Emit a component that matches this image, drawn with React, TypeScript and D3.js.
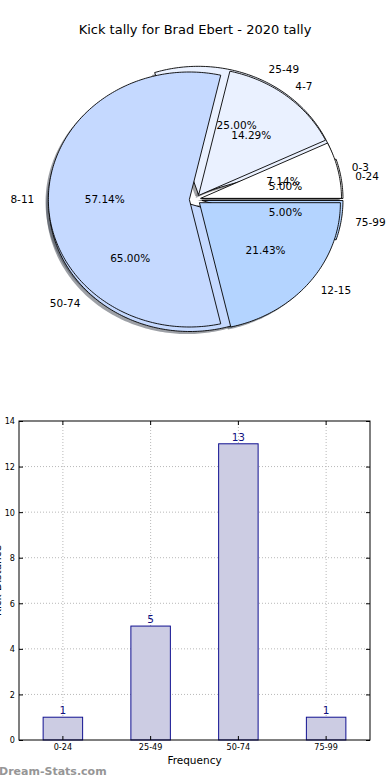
import { useEffect, useRef } from 'react';
import * as d3 from 'd3';

// distance bands (outer pie, drawn first, and the bar chart)
const distBands = ['0-24', '25-49', '50-74', '75-99'];
const distCounts = [1, 5, 13, 1];

// kicks per game bands (pie drawn on top)
const kickBands = ['0-3', '4-7', '8-11', '12-15'];
const kickCounts = [1, 2, 8, 3];

const pieColors = ['#ffffff', '#eaf1ff', '#c5d9ff', '#b4d4ff'];
const yTicks = [0, 2, 4, 6, 8, 10, 12, 14];

const title = 'Kick tally for Brad Ebert - 2020 tally';
const font = "'DejaVu Sans', sans-serif";

const W = 390;
const H = 780;

export default function App() {
  const svgRef = useRef<SVGSVGElement>(null);

  useEffect(() => {
    if (!svgRef.current) return;
    const svg = d3.select(svgRef.current);
    svg.selectAll('*').remove();

    svg.append('rect').attr('width', W).attr('height', H).attr('fill', '#fff');

    svg.append('text')
      .attr('x', W / 2).attr('y', 34)
      .attr('text-anchor', 'middle')
      .style('font-family', font).style('font-size', '13px')
      .text(title);

    // ---------- Pies (ellipse, matplotlib style: CCW from 3 o'clock) ----------
    const cx = 195, cy = 199.5, rx = 141, ry = 127.5;
    const xs = d3.scaleLinear().domain([-1, 1]).range([cx - rx, cx + rx]);
    const ys = d3.scaleLinear().domain([-1, 1]).range([cy + ry, cy - ry]);
    const line = d3.line<[number, number]>().x(d => xs(d[0])).y(d => ys(d[1]));

    const pieGen = d3.pie<number>().sort(null).startAngle(0).endAngle(2 * Math.PI);

    interface Wedge {
      pts: [number, number][];
      color: string;
      label: string;
      pct: string;
      lx: number; ly: number;
      px: number; py: number;
    }

    function wedges(values: number[], labels: string[], explode: number): Wedge[] {
      const total = d3.sum(values);
      return pieGen(values).map((a, i) => {
        const t1 = a.startAngle, t2 = a.endAngle;
        const tm = (t1 + t2) / 2;
        const ox = explode * Math.cos(tm), oy = explode * Math.sin(tm);
        const n = Math.max(2, Math.ceil(((t2 - t1) * 180) / Math.PI));
        const pts: [number, number][] = [[ox, oy]];
        for (let k = 0; k <= n; k++) {
          const t = t1 + ((t2 - t1) * k) / n;
          pts.push([ox + Math.cos(t), oy + Math.sin(t)]);
        }
        pts.push([ox, oy]);
        return {
          pts,
          color: pieColors[i],
          label: labels[i],
          pct: ((values[i] / total) * 100).toFixed(2) + '%',
          lx: ox + 1.1 * Math.cos(tm), ly: oy + 1.1 * Math.sin(tm),
          px: ox + 0.6 * Math.cos(tm), py: oy + 0.6 * Math.sin(tm),
        };
      });
    }

    const distW = wedges(distCounts, distBands, 0.05);
    const kickW = wedges(kickCounts, kickBands, 0.04);
    const all = [...distW, ...kickW];

    const pieG = svg.append('g');

    // shadows below everything
    pieG.selectAll('.shadow')
      .data(all)
      .join('path')
      .attr('class', 'shadow')
      .attr('d', d => line(d.pts.map(p => [p[0] - 0.02, p[1] - 0.02] as [number, number])))
      .attr('fill', d => {
        const c = d3.rgb(d.color);
        return d3.rgb(c.r * 0.3, c.g * 0.3, c.b * 0.3).toString();
      })
      .attr('opacity', 0.5);

    pieG.selectAll('.wedge')
      .data(all)
      .join('path')
      .attr('class', 'wedge')
      .attr('d', d => line(d.pts))
      .attr('fill', d => d.color)
      .attr('stroke', '#000')
      .attr('stroke-width', 0.9)
      .attr('stroke-linejoin', 'miter');

    pieG.selectAll('.lbl')
      .data(all)
      .join('text')
      .attr('class', 'lbl')
      .attr('x', d => xs(d.lx))
      .attr('y', d => ys(d.ly))
      .attr('dy', '0.35em')
      .attr('text-anchor', d => (d.lx > 0 ? 'start' : 'end'))
      .style('font-family', font).style('font-size', '10.5px')
      .text(d => d.label);

    pieG.selectAll('.pct')
      .data(all)
      .join('text')
      .attr('class', 'pct')
      .attr('x', d => xs(d.px))
      .attr('y', d => ys(d.py))
      .attr('dy', '0.35em')
      .attr('text-anchor', 'middle')
      .style('font-family', font).style('font-size', '10.5px')
      .text(d => d.pct);

    // ---------- Bar chart ----------
    const left = 19, right = 370, top = 421, bottom = 740;
    const x = d3.scaleBand<string>()
      .domain(distBands)
      .range([left, right])
      .paddingInner(0.55)
      .paddingOuter(0.275);
    const y = d3.scaleLinear().domain([0, 14]).range([bottom, top]);

    const g = svg.append('g');

    // grid
    g.selectAll('.hgrid')
      .data(yTicks.slice(1, -1))
      .join('line')
      .attr('x1', left).attr('x2', right)
      .attr('y1', d => y(d)).attr('y2', d => y(d))
      .attr('stroke', '#b8b8b8').attr('stroke-width', 1)
      .attr('stroke-dasharray', '1,2');
    g.selectAll('.vgrid')
      .data(distBands)
      .join('line')
      .attr('x1', d => (x(d) || 0) + x.bandwidth() / 2)
      .attr('x2', d => (x(d) || 0) + x.bandwidth() / 2)
      .attr('y1', top).attr('y2', bottom)
      .attr('stroke', '#b8b8b8').attr('stroke-width', 1)
      .attr('stroke-dasharray', '1,2');

    // bars
    g.selectAll('.bar')
      .data(distCounts)
      .join('rect')
      .attr('x', (d, i) => x(distBands[i]) || 0)
      .attr('y', d => y(d))
      .attr('width', x.bandwidth())
      .attr('height', d => y(0) - y(d))
      .attr('fill', '#ccccE3')
      .attr('stroke', '#101090')
      .attr('stroke-width', 1);

    g.selectAll('.val')
      .data(distCounts)
      .join('text')
      .attr('x', (d, i) => (x(distBands[i]) || 0) + x.bandwidth() / 2)
      .attr('y', d => y(d) - 3)
      .attr('text-anchor', 'middle')
      .attr('fill', '#101080')
      .style('font-family', font).style('font-size', '10.5px')
      .text(d => String(d));

    // axes (ticks pointing inward)
    const tickFont = "'DejaVu Sans Condensed', 'DejaVu Sans', sans-serif";
    const yAxis = g.append('g').attr('transform', `translate(${left},0)`)
      .call(d3.axisLeft(y).tickValues(yTicks).tickSizeInner(-4).tickSizeOuter(0).tickPadding(4));
    yAxis.select('.domain').remove();
    yAxis.selectAll('text').style('font-family', tickFont).style('font-size', '9px').attr('fill', '#000');

    const yAxisR = g.append('g').attr('transform', `translate(${right},0)`)
      .call(d3.axisRight(y).tickValues(yTicks).tickSizeInner(-4).tickSizeOuter(0).tickFormat(() => ''));
    yAxisR.select('.domain').remove();

    const xAxis = g.append('g').attr('transform', `translate(0,${bottom})`)
      .call(d3.axisBottom(x).tickSizeInner(-4).tickSizeOuter(0).tickPadding(4));
    xAxis.select('.domain').remove();
    xAxis.selectAll('text').style('font-family', tickFont).style('font-size', '9px').attr('fill', '#000');

    const xAxisT = g.append('g').attr('transform', `translate(0,${top})`)
      .call(d3.axisTop(x).tickSizeInner(-4).tickSizeOuter(0).tickFormat(() => ''));
    xAxisT.select('.domain').remove();

    g.append('rect')
      .attr('x', left).attr('y', top)
      .attr('width', right - left).attr('height', bottom - top)
      .attr('fill', 'none').attr('stroke', '#000').attr('stroke-width', 1);

    g.append('text')
      .attr('x', (left + right) / 2).attr('y', 764)
      .attr('text-anchor', 'middle')
      .style('font-family', font).style('font-size', '10.5px')
      .text('Frequency');

    // y label sits mostly outside the figure, as in the original
    g.append('text')
      .attr('transform', `translate(1,${(top + bottom) / 2}) rotate(-90)`)
      .attr('text-anchor', 'middle')
      .style('font-family', font).style('font-size', '10.5px')
      .text('Kick Distance');

    svg.append('text')
      .attr('x', -1).attr('y', 775)
      .attr('fill', '#969696')
      .style('font-family', font).style('font-size', '11px').style('font-weight', 'bold')
      .text('Dream-Stats.com');
  }, []);

  return (
    <svg
      ref={svgRef}
      width={W}
      height={H}
      style={{ position: 'absolute', left: 0, top: 0 }}
    />
  );
}
